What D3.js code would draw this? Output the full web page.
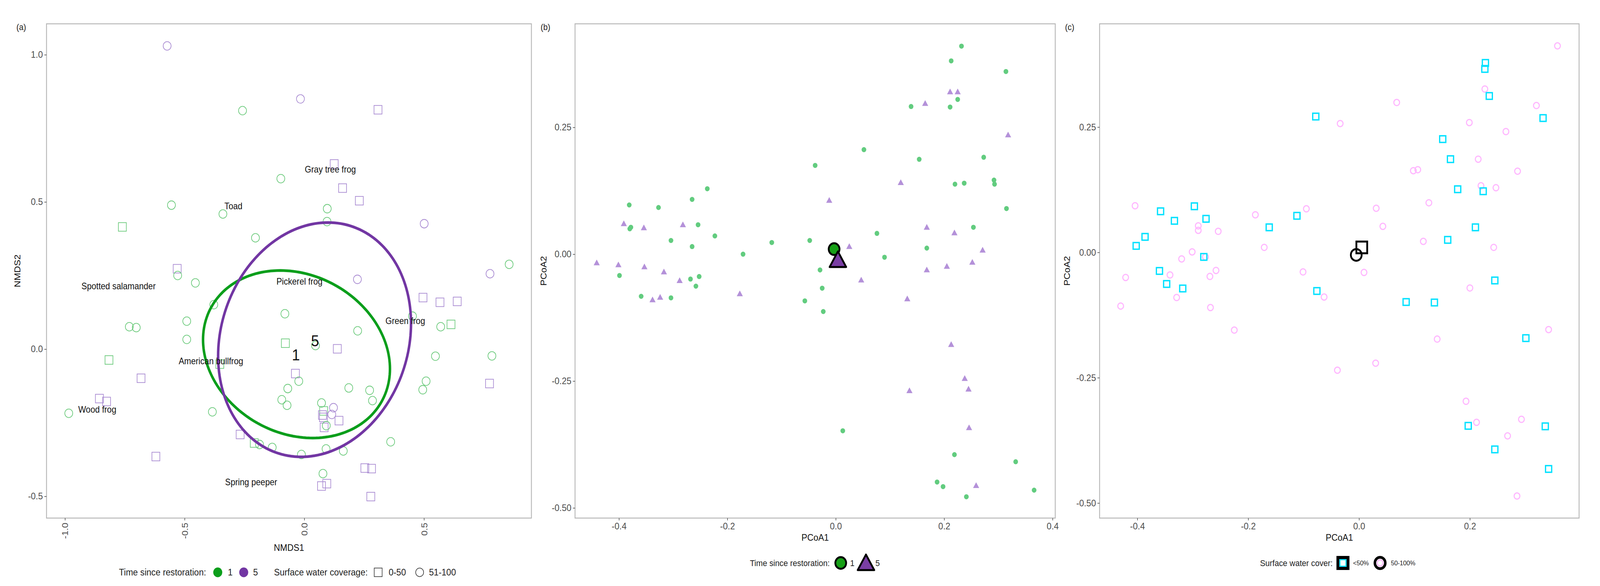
<!DOCTYPE html>
<html>
<head>
<meta charset="utf-8">
<script src="https://cdn.jsdelivr.net/npm/d3@7"></script>
<style>
  html, body { margin: 0; padding: 0; background: #fff; overflow: hidden; }
  svg { display: block; }
  text { font-family: "Liberation Sans", Arial, sans-serif; }
</style>
</head>
<body>
<script>
const W = 4438;
const H = 1501;
const PLOT_TOP = 61;
const PLOT_BOTTOM = 1327;

// ---------- panel (a) : NMDS of sites ----------
const aNMDS1 = [-0.573,-0.016,-0.258,0.308,0.125,-0.098,0.160,0.230,-0.555,0.096,
  -0.340,0.095,0.501,-0.760,-0.204,0.856,-0.531,0.776,-0.529,-0.455,
  0.222,0.496,0.567,0.639,-0.378,-0.081,0.452,-0.491,-0.731,-0.702,
  0.223,0.570,0.613,-0.491,-0.079,0.047,0.138,-0.816,0.548,0.784,
  -0.353,-0.682,-0.037,-0.023,0.509,0.774,-0.069,0.186,0.273,0.495,
  -0.856,-0.826,-0.094,-0.072,0.285,0.072,0.122,-0.984,-0.384,0.081,
  0.076,0.115,0.145,0.092,0.083,-0.268,-0.209,-0.187,-0.134,-0.012,
  0.091,0.163,0.361,-0.620,0.253,0.281,0.078,0.094,0.072,0.278,
  0.080];
const aNMDS2 = [1.030,0.850,0.810,0.813,0.629,0.579,0.547,0.504,0.489,0.477,
  0.459,0.433,0.426,0.415,0.378,0.288,0.273,0.256,0.250,0.225,
  0.237,0.175,0.159,0.162,0.151,0.120,0.112,0.095,0.076,0.073,
  0.062,0.076,0.084,0.033,0.020,0.012,0.001,-0.037,-0.024,-0.023,
  -0.051,-0.099,-0.083,-0.109,-0.109,-0.117,-0.134,-0.132,-0.140,-0.138,
  -0.168,-0.178,-0.172,-0.191,-0.175,-0.183,-0.199,-0.218,-0.213,-0.210,
  -0.224,-0.222,-0.243,-0.260,-0.266,-0.290,-0.319,-0.324,-0.334,-0.358,
  -0.339,-0.346,-0.315,-0.365,-0.404,-0.406,-0.423,-0.457,-0.465,-0.501,
  -0.232];
const aTime = [5,5,1,5,5,1,5,5,1,1, 1,1,5,1,1,1,5,5,1,1,
  5,5,5,5,1,1,1,1,1,1, 1,1,1,1,1,1,5,1,1,1,
  1,5,5,1,1,5,1,1,1,1, 5,5,1,1,1,1,5,1,1,1,
  5,5,5,1,5,5,1,1,1,1, 1,1,1,5,5,5,1,5,5,5,
  5];
const aWater = ["51-100","51-100","51-100","0-50","0-50","51-100","0-50","0-50","51-100","51-100",
  "51-100","51-100","51-100","0-50","51-100","51-100","0-50","51-100","51-100","51-100",
  "51-100","0-50","0-50","0-50","51-100","51-100","51-100","51-100","51-100","51-100",
  "51-100","51-100","0-50","51-100","0-50","51-100","0-50","0-50","51-100","51-100",
  "0-50","0-50","0-50","51-100","51-100","0-50","51-100","51-100","51-100","51-100",
  "0-50","0-50","51-100","51-100","51-100","51-100","51-100","51-100","51-100","0-50",
  "0-50","51-100","0-50","51-100","0-50","0-50","0-50","51-100","51-100","51-100",
  "51-100","51-100","51-100","0-50","0-50","0-50","51-100","0-50","0-50","0-50",
  "0-50"];

// ellipses per restoration age (centre, half extents, phase in degrees)
const ellipseTime = [1, 5];
const ellipseCx = [-0.0325, 0.043];
const ellipseCy = [-0.0175, 0.032];
const ellipseSx = [0.3905, 0.403];
const ellipseSy = [0.2845, 0.398];
const ellipsePhase = [100, 82];

const speciesNames = ["Gray tree frog","Toad","Spotted salamander","Pickerel frog","Green frog","American bullfrog","Wood frog","Spring peeper"];
const speciesX = [0.109,-0.296,-0.776,-0.020,0.422,-0.390,-0.865,-0.222];
const speciesY = [0.610,0.486,0.214,0.229,0.095,-0.041,-0.205,-0.452];

const groupLabels = ["1","5"];
const groupLabelX = [-0.035, 0.045];
const groupLabelY = [-0.020, 0.028];

const aXTicks = [-1.0,-0.5,0.0,0.5];
const aXTickLabels = ["-1.0","-0.5","0.0","0.5"];
const aYTicks = [-0.5,0.0,0.5,1.0];
const aYTickLabels = ["-0.5","0.0","0.5","1.0"];

// ---------- panel (b) : PCoA by time since restoration ----------
const bTime1X = [0.232,0.213,0.314,0.225,0.139,0.211,0.052,0.154,0.273,-0.038,
  0.220,0.237,0.292,0.293,-0.237,-0.265,-0.381,-0.327,0.315,-0.254,
  -0.378,-0.380,0.254,-0.223,0.076,-0.304,-0.118,-0.048,-0.265,0.168,
  -0.171,0.090,-0.029,-0.399,-0.252,-0.268,-0.258,-0.025,-0.359,-0.304,
  -0.057,-0.023,0.013,0.219,0.332,0.187,0.198,0.241,0.366];
const bTime1Y = [0.410,0.381,0.360,0.305,0.291,0.290,0.206,0.187,0.191,0.175,
  0.138,0.140,0.146,0.138,0.129,0.108,0.097,0.092,0.090,0.058,
  0.053,0.050,0.053,0.036,0.041,0.027,0.023,0.027,0.015,0.012,
  0.000,-0.006,-0.031,-0.042,-0.044,-0.049,-0.063,-0.067,-0.083,-0.086,
  -0.092,-0.113,-0.348,-0.395,-0.409,-0.449,-0.458,-0.478,-0.465];
const bTime5X = [0.211,0.225,0.165,0.318,0.120,-0.012,-0.391,-0.282,-0.354,0.168,
  0.219,0.025,0.271,-0.441,-0.401,-0.353,0.252,0.205,0.168,-0.317,
  -0.288,0.047,-0.177,-0.338,-0.324,0.132,0.213,0.238,0.245,0.136,
  0.246,0.259];
const bTime5Y = [0.319,0.319,0.296,0.234,0.140,0.105,0.059,0.057,0.051,0.052,
  0.041,0.014,0.007,-0.018,-0.022,-0.026,-0.017,-0.025,-0.032,-0.036,
  -0.053,-0.052,-0.079,-0.091,-0.086,-0.089,-0.179,-0.246,-0.267,-0.270,
  -0.343,-0.457];
const bCentroidTime = [1, 5];
const bCentroidX = [-0.003, 0.004];
const bCentroidY = [0.010, -0.015];

// ---------- panel (c) : PCoA by surface water cover ----------
const cLowX = [0.228,0.227,0.235,-0.078,0.332,0.151,0.165,0.178,0.224,-0.297,
  -0.358,-0.333,-0.276,-0.112,-0.162,0.210,-0.386,-0.402,0.160,-0.280,
  -0.360,0.245,-0.347,-0.318,-0.076,0.085,0.136,0.301,0.197,0.336,
  0.245,0.342];
const cLowY = [0.378,0.366,0.312,0.271,0.268,0.226,0.186,0.126,0.122,0.092,
  0.082,0.063,0.067,0.073,0.050,0.050,0.031,0.013,0.025,-0.009,
  -0.037,-0.056,-0.063,-0.072,-0.077,-0.099,-0.100,-0.171,-0.346,-0.347,
  -0.393,-0.432];
const cHighX = [0.358,0.227,0.068,0.320,0.199,-0.034,0.265,0.215,0.098,0.106,
  0.286,0.220,0.247,0.126,-0.404,-0.095,0.031,-0.187,-0.290,-0.290,
  -0.254,0.043,0.116,-0.171,0.243,-0.301,-0.320,-0.277,-0.258,-0.341,
  -0.269,-0.421,-0.101,0.009,0.200,-0.063,-0.329,-0.430,-0.268,-0.225,
  0.342,0.141,0.030,-0.039,0.193,0.212,0.293,0.268,0.285];
const cHighY = [0.412,0.326,0.299,0.293,0.259,0.257,0.241,0.186,0.163,0.165,
  0.162,0.133,0.129,0.099,0.093,0.087,0.088,0.075,0.053,0.044,
  0.042,0.052,0.022,0.010,0.010,0.001,-0.013,-0.009,-0.036,-0.045,
  -0.048,-0.050,-0.039,-0.040,-0.071,-0.089,-0.090,-0.107,-0.110,-0.155,
  -0.154,-0.173,-0.221,-0.235,-0.297,-0.339,-0.333,-0.366,-0.486];
const cCentroidCover = ["<50%", "50-100%"];
const cCentroidX = [0.005, -0.005];
const cCentroidY = [0.010, -0.005];

const pcoaYTicks = [-0.50,-0.25,0.00,0.25];
const pcoaYTickLabels = ["-0.50","-0.25","0.00","0.25"];
const bXTicks = [-0.4,-0.2,0.0,0.2,0.4];
const bXTickLabels = ["-0.4","-0.2","0.0","0.2","0.4"];
const cXTicks = [-0.4,-0.2,0.0,0.2];
const cXTickLabels = ["-0.4","-0.2","0.0","0.2"];

// colours
const ellipseColor = {1: "#0b9e1b", 5: "#7236a3"};
const aPointColor = {1: "#6cca7c", 5: "#a98bd2"};
const bPointColor = {1: "#62cc7f", 5: "#b491d9"};
const bCentroidFill = {1: "#17a017", 5: "#7a3ea4"};
const cyan = "#00e1ff";
const pink = "#ffb6ff";

// the drawing is laid out in a 4438 x 1501 box and stretched to the window
var svg = d3.select("body").append("svg")
    .attr("viewBox", `0 0 ${W} ${H}`)
    .attr("preserveAspectRatio", "none")
    .style("width", "100vw")
    .style("height", "100vh")
    .style("background", "#fff");

// scales
var xA = d3.scaleLinear().domain([-1.077, 0.949]).range([129, 1474]);
var yA = d3.scaleLinear().domain([-0.574, 1.105]).range([PLOT_BOTTOM, PLOT_TOP]);
var xB = d3.scaleLinear().domain([-0.481, 0.405]).range([1595, 2927]);
var yB = d3.scaleLinear().domain([-0.520, 0.454]).range([PLOT_BOTTOM, PLOT_TOP]);
var xC = d3.scaleLinear().domain([-0.468, 0.397]).range([3050, 4380]);
var yC = d3.scaleLinear().domain([-0.530, 0.456]).range([PLOT_BOTTOM, PLOT_TOP]);

//Frame, axes and titles shared by all panels
function drawFrame(x, y, xTicks, xLabels, yTicks, yLabels, rotateX, xTitle, yTitle, yTitleX, xTitleY, tag, tagX) {
    var x0 = x.range()[0], x1 = x.range()[1];
    var g = svg.append("g");

    g.append("rect")
        .attr("x", x0).attr("y", PLOT_TOP)
        .attr("width", x1 - x0).attr("height", PLOT_BOTTOM - PLOT_TOP)
        .attr("fill", "none")
        .attr("stroke", "#b8b8b8")
        .attr("stroke-width", 2.5);

    var xAxis = g.append("g")
        .attr("transform", `translate(0, ${PLOT_BOTTOM})`)
        .call(d3.axisBottom(x).tickValues(xTicks).tickFormat((d, i) => xLabels[i]).tickSize(6).tickPadding(5));
    xAxis.select(".domain").remove();
    xAxis.selectAll("line").attr("stroke", "#444").attr("stroke-width", 1.5);
    xAxis.selectAll("text")
        .attr("fill", "#4d4d4d")
        .attr("font-size", "24px")
        .style("font-family", "Liberation Sans, Arial, sans-serif");
    if (rotateX) {
        xAxis.selectAll("text")
            .attr("transform", "rotate(-90)")
            .attr("x", -12)
            .attr("y", 0)
            .attr("dy", "0.35em")
            .attr("text-anchor", "end");
    } else {
        xAxis.selectAll("text").attr("dy", "0.75em");
    }

    var yAxis = g.append("g")
        .attr("transform", `translate(${x0}, 0)`)
        .call(d3.axisLeft(y).tickValues(yTicks).tickFormat((d, i) => yLabels[i]).tickSize(6).tickPadding(4));
    yAxis.select(".domain").remove();
    yAxis.selectAll("line").attr("stroke", "#444").attr("stroke-width", 1.5);
    yAxis.selectAll("text")
        .attr("fill", "#4d4d4d")
        .attr("font-size", "24px")
        .style("font-family", "Liberation Sans, Arial, sans-serif");

    g.append("text")
        .attr("x", (x0 + x1) / 2)
        .attr("y", xTitleY)
        .attr("text-anchor", "middle")
        .attr("dominant-baseline", "central")
        .attr("font-size", "24px")
        .attr("fill", "#111")
        .text(xTitle);

    g.append("text")
        .attr("transform", `translate(${yTitleX}, ${(PLOT_TOP + PLOT_BOTTOM) / 2}) rotate(-90)`)
        .attr("text-anchor", "middle")
        .attr("dominant-baseline", "central")
        .attr("font-size", "24px")
        .attr("fill", "#111")
        .text(yTitle);

    g.append("text")
        .attr("x", tagX)
        .attr("y", 69)
        .attr("text-anchor", "middle")
        .attr("dominant-baseline", "central")
        .attr("font-size", "22px")
        .attr("fill", "#222")
        .text(tag);
}

drawFrame(xA, yA, aXTicks, aXTickLabels, aYTicks, aYTickLabels, true, "NMDS1", "NMDS2", 48, 1403, "(a)", 59);
drawFrame(xB, yB, bXTicks, bXTickLabels, pcoaYTicks, pcoaYTickLabels, false, "PCoA1", "PCoA2", 1507, 1377, "(b)", 1513);
drawFrame(xC, yC, cXTicks, cXTickLabels, pcoaYTicks, pcoaYTickLabels, false, "PCoA1", "PCoA2", 2959, 1377, "(c)", 2967);

// ---------- panel (a) marks ----------
var aData = aNMDS1.map((v, i) => ({x: v, y: aNMDS2[i], time: aTime[i], water: aWater[i]}));
var aPts = svg.append("g");
var SQ_A = 22;
aPts.selectAll("rect")
    .data(aData.filter(d => d.water === "0-50"))
    .join("rect")
        .attr("x", d => xA(d.x) - SQ_A / 2)
        .attr("y", d => yA(d.y) - SQ_A / 2)
        .attr("width", SQ_A)
        .attr("height", SQ_A)
        .attr("fill", "none")
        .attr("stroke", d => aPointColor[d.time])
        .attr("stroke-width", 1.8);
aPts.selectAll("circle")
    .data(aData.filter(d => d.water === "51-100"))
    .join("circle")
        .attr("cx", d => xA(d.x))
        .attr("cy", d => yA(d.y))
        .attr("r", 11)
        .attr("fill", "none")
        .attr("stroke", d => aPointColor[d.time])
        .attr("stroke-width", 1.8);

// ellipses
var ellipseLine = d3.line().curve(d3.curveLinearClosed);
var steps = d3.range(0, 180);
svg.append("g").selectAll("path")
    .data(ellipseTime.map((t, i) => ({time: t, cx: ellipseCx[i], cy: ellipseCy[i], sx: ellipseSx[i], sy: ellipseSy[i], ph: ellipsePhase[i] * Math.PI / 180})))
    .join("path")
        .attr("d", e => ellipseLine(steps.map(k => {
            var t = k / 180 * 2 * Math.PI;
            return [xA(e.cx + e.sx * Math.cos(t)), yA(e.cy + e.sy * Math.cos(t - e.ph))];
        })))
        .attr("fill", "none")
        .attr("stroke", e => ellipseColor[e.time])
        .attr("stroke-width", 7);

// species names
svg.append("g").selectAll("text")
    .data(speciesNames)
    .join("text")
        .attr("x", (d, i) => xA(speciesX[i]))
        .attr("y", (d, i) => yA(speciesY[i]))
        .attr("text-anchor", "middle")
        .attr("dominant-baseline", "central")
        .attr("font-size", "23px")
        .attr("fill", "#111")
        .text(d => d);

svg.append("g").selectAll("text")
    .data(groupLabels)
    .join("text")
        .attr("x", (d, i) => xA(groupLabelX[i]))
        .attr("y", (d, i) => yA(groupLabelY[i]))
        .attr("text-anchor", "middle")
        .attr("dominant-baseline", "central")
        .attr("font-size", "40px")
        .attr("fill", "#111")
        .text(d => d);

// ---------- panel (b) marks ----------
var bPts = svg.append("g");
bPts.selectAll("circle")
    .data(bTime1X.map((v, i) => [v, bTime1Y[i]]))
    .join("circle")
        .attr("cx", d => xB(d[0]))
        .attr("cy", d => yB(d[1]))
        .attr("r", 6.5)
        .attr("fill", bPointColor[1]);
bPts.selectAll("path")
    .data(bTime5X.map((v, i) => [v, bTime5Y[i]]))
    .join("path")
        .attr("transform", d => `translate(${xB(d[0])}, ${yB(d[1])})`)
        .attr("d", d3.symbol(d3.symbolTriangle, 125))
        .attr("fill", bPointColor[5]);

var bCent = svg.append("g");
bCent.selectAll("path")
    .data(bCentroidTime)
    .join("path")
        .attr("transform", (d, i) => `translate(${xB(bCentroidX[i])}, ${yB(bCentroidY[i])})`)
        .attr("d", d => d === 1 ? d3.symbol(d3.symbolCircle, Math.PI * 15 * 15)() : d3.symbol(d3.symbolTriangle, 916)())
        .attr("fill", d => bCentroidFill[d])
        .attr("stroke", "#000")
        .attr("stroke-width", 5)
        .attr("stroke-linejoin", "round");

// ---------- panel (c) marks ----------
var cPts = svg.append("g");
var SQ_C = 17;
cPts.selectAll("circle")
    .data(cHighX.map((v, i) => [v, cHighY[i]]))
    .join("circle")
        .attr("cx", d => xC(d[0]))
        .attr("cy", d => yC(d[1]))
        .attr("r", 8)
        .attr("fill", "none")
        .attr("stroke", pink)
        .attr("stroke-width", 3);
cPts.selectAll("rect")
    .data(cLowX.map((v, i) => [v, cLowY[i]]))
    .join("rect")
        .attr("x", d => xC(d[0]) - SQ_C / 2)
        .attr("y", d => yC(d[1]) - SQ_C / 2)
        .attr("width", SQ_C)
        .attr("height", SQ_C)
        .attr("fill", "none")
        .attr("stroke", cyan)
        .attr("stroke-width", 3.5);

var cCent = svg.append("g");
cCent.selectAll("path")
    .data(cCentroidCover)
    .join("path")
        .attr("transform", (d, i) => `translate(${xC(cCentroidX[i])}, ${yC(cCentroidY[i])})`)
        .attr("d", d => d === "<50%" ? d3.symbol(d3.symbolSquare, 30 * 30)() : d3.symbol(d3.symbolCircle, Math.PI * 15 * 15)())
        .attr("fill", "none")
        .attr("stroke", "#000")
        .attr("stroke-width", 5);

// ---------- legends ----------
function legendText(x, y, size, str) {
    svg.append("text")
        .attr("x", x).attr("y", y)
        .attr("dominant-baseline", "central")
        .attr("font-size", size)
        .attr("fill", "#222")
        .text(str);
}

// (a)
var LA = 1466;
legendText(330, LA, "24px", "Time since restoration:");
svg.append("circle").attr("cx", 604).attr("cy", LA).attr("r", 12.5).attr("fill", ellipseColor[1]);
legendText(632, LA, "24px", "1");
svg.append("circle").attr("cx", 676).attr("cy", LA).attr("r", 12.5).attr("fill", ellipseColor[5]);
legendText(702, LA, "24px", "5");
legendText(760, LA, "24px", "Surface water coverage:");
svg.append("rect").attr("x", 1049 - 11).attr("y", LA - 11).attr("width", 22).attr("height", 22)
    .attr("fill", "none").attr("stroke", "#333").attr("stroke-width", 1.6);
legendText(1078, LA, "24px", "0-50");
svg.append("circle").attr("cx", 1164).attr("cy", LA).attr("r", 11)
    .attr("fill", "none").attr("stroke", "#333").attr("stroke-width", 1.6);
legendText(1190, LA, "24px", "51-100");

// (b)
var LB = 1442;
legendText(2080, LB, "22px", "Time since restoration:");
svg.append("circle").attr("cx", 2332).attr("cy", LB).attr("r", 15)
    .attr("fill", bCentroidFill[1]).attr("stroke", "#000").attr("stroke-width", 5);
legendText(2358, LB, "22px", "1");
svg.append("path").attr("transform", `translate(2402, ${LB + 5})`)
    .attr("d", d3.symbol(d3.symbolTriangle, 916))
    .attr("fill", bCentroidFill[5]).attr("stroke", "#000").attr("stroke-width", 5).attr("stroke-linejoin", "round");
legendText(2428, LB, "22px", "5");

// (c)
var LC = 1442;
legendText(3495, LC, "22px", "Surface water cover:");
svg.append("rect").attr("x", 3725 - 14).attr("y", LC - 14).attr("width", 28).attr("height", 28)
    .attr("fill", "#fff").attr("stroke", "#000").attr("stroke-width", 8);
svg.append("rect").attr("x", 3725 - 8.5).attr("y", LC - 8.5).attr("width", 17).attr("height", 17)
    .attr("fill", "none").attr("stroke", cyan).attr("stroke-width", 3);
legendText(3753, LC, "17px", "<50%");
svg.append("circle").attr("cx", 3828).attr("cy", LC).attr("r", 14.5)
    .attr("fill", "#fff").attr("stroke", "#000").attr("stroke-width", 7);
svg.append("circle").attr("cx", 3828).attr("cy", LC).attr("r", 8)
    .attr("fill", "none").attr("stroke", pink).attr("stroke-width", 3);
legendText(3858, LC, "17px", "50-100%");
</script>
</body>
</html>
